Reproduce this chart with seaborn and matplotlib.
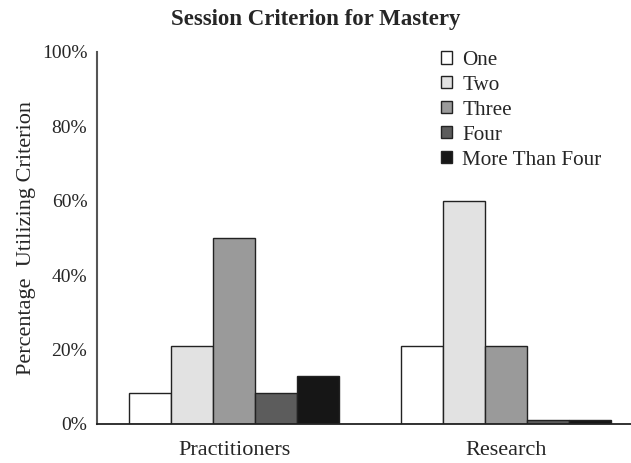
import matplotlib
matplotlib.use("Agg")
import matplotlib.pyplot as plt
import seaborn as sns
import pandas as pd
from matplotlib.patches import Patch

groups = ["Practitioners", "Research"]
criteria = ["One", "Two", "Three", "Four", "More Than Four"]
practitioners = [8.3, 21, 50, 8.3, 13]
research = [21, 60, 21, 1.2, 1.2]
colors = ["#ffffff", "#e2e2e2", "#9a9a9a", "#5c5c5c", "#161616"]
yticks = [0, 20, 40, 60, 80, 100]
ytick_labels = ["0%", "20%", "40%", "60%", "80%", "100%"]

rows = []
for g, vals in zip(groups, [practitioners, research]):
    for c, v in zip(criteria, vals):
        rows.append({"group": g, "criterion": c, "value": v})
df = pd.DataFrame(rows)

sns.set_theme(style="white")
plt.rcParams["font.family"] = ["Liberation Serif", "DejaVu Serif"]

W, H = 631, 463
fig = plt.figure(figsize=(W / 100, H / 100), dpi=100)
ax = fig.add_axes([97 / W, 1 - 424 / H, (631 - 97) / W, (424 - 52) / H])

sns.barplot(data=df, x="group", y="value", hue="criterion", order=groups,
            hue_order=criteria, palette=colors, width=0.77, ax=ax,
            edgecolor="#222222", linewidth=1.0, legend=False, saturation=1)

ax.set_ylim(0, 100)
ax.set_xlim(-0.504, 1.46)
ax.set_yticks(yticks)
ax.set_yticklabels(ytick_labels, fontsize=14)
ax.tick_params(axis="y", length=0, pad=7)
ax.set_xticks([0, 1])
ax.set_xticklabels(groups, fontsize=16)
ax.tick_params(axis="x", which="major", length=0, pad=12)
ax.set_xticks([0.5], minor=True)
ax.tick_params(axis="x", which="minor", length=7, width=1.5, color="#444444", direction="out")
ax.set_xlabel("")
ax.set_ylabel("Percentage  Utilizing Criterion", fontsize=16, labelpad=4)

for s in ["top", "right"]:
    ax.spines[s].set_visible(False)
ax.spines["left"].set_color("#555555")
ax.spines["left"].set_linewidth(1.5)
ax.spines["bottom"].set_color("#222222")
ax.spines["bottom"].set_linewidth(1.3)

fig.text(0.5, 1 - 20 / H, "Session Criterion for Mastery", ha="center", va="center",
         fontsize=16.5, fontweight="bold")

handles = [Patch(facecolor=c, edgecolor="#222222", linewidth=1.0) for c in colors]
leg = fig.legend(handles, criteria, loc="upper left",
                 bbox_to_anchor=(441 / W, 1 - 51 / H), frameon=False,
                 fontsize=15.2, handlelength=0.5, handleheight=0.5,
                 handletextpad=0.5, labelspacing=0.28, borderpad=0, borderaxespad=0)

fig.savefig("out.png", dpi=100)
